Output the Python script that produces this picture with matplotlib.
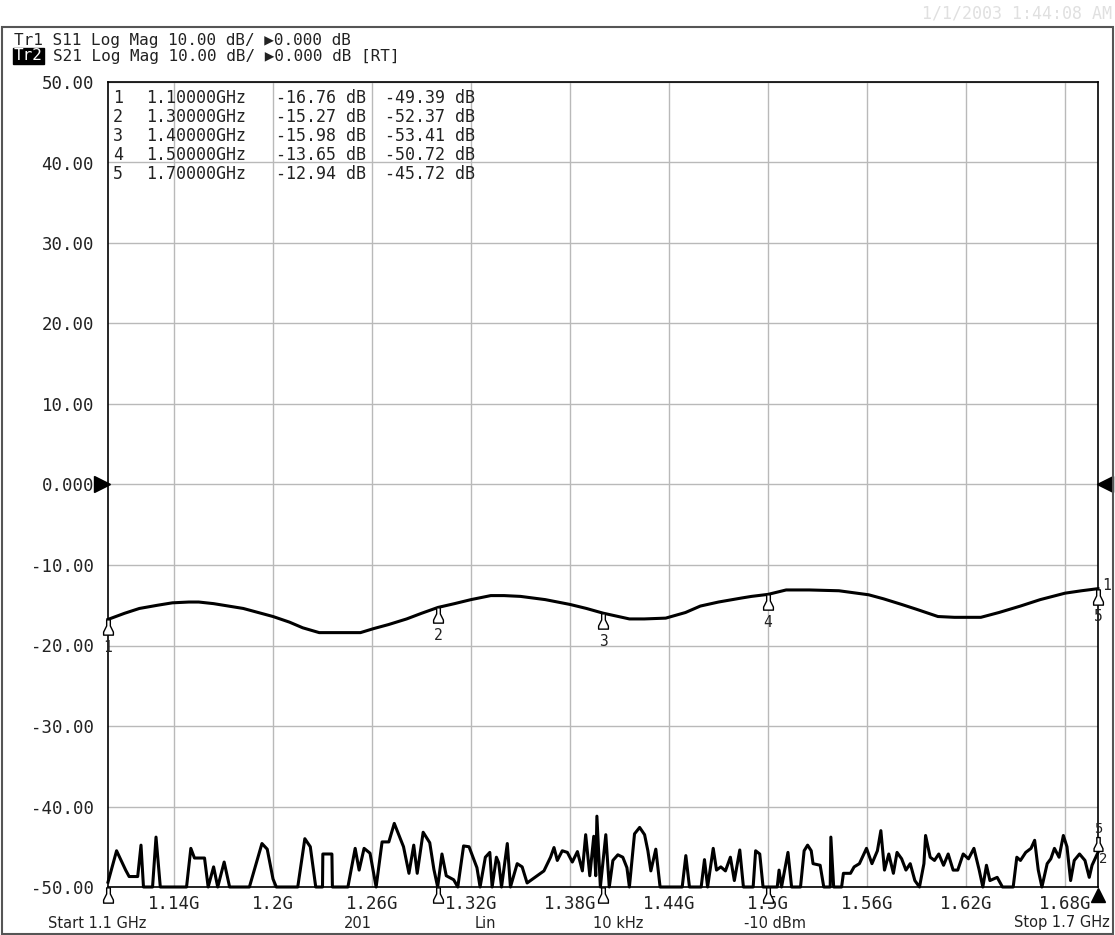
import numpy as np
import matplotlib.pyplot as plt
from matplotlib import transforms
from matplotlib.path import Path
from matplotlib.patches import Rectangle
from matplotlib.lines import Line2D

plt.rcParams['font.family'] = ['DejaVu Sans Mono', 'DejaVu Sans']

W, H = 1115, 935

# sweep
f_start, f_stop = 1.1, 1.7
n_points = 201

# S11 (Tr1)
s11_freq = [1.100, 1.110, 1.119, 1.130, 1.139, 1.149, 1.155, 1.164, 1.182, 1.200, 1.210,
            1.218, 1.228, 1.253, 1.261, 1.270, 1.281, 1.290, 1.300, 1.310, 1.320, 1.332,
            1.340, 1.350, 1.365, 1.380, 1.390, 1.400, 1.416, 1.425, 1.438, 1.450, 1.459,
            1.470, 1.484, 1.490, 1.500, 1.511, 1.525, 1.543, 1.561, 1.570, 1.581, 1.590,
            1.603, 1.613, 1.629, 1.640, 1.653, 1.665, 1.680, 1.690, 1.700]
s11_db = [-16.76, -16.0, -15.4, -15.0, -14.7, -14.6, -14.6, -14.8, -15.4, -16.4, -17.1,
          -17.8, -18.4, -18.4, -17.9, -17.4, -16.7, -16.0, -15.27, -14.8, -14.3, -13.8,
          -13.8, -13.9, -14.3, -14.9, -15.4, -15.98, -16.7, -16.7, -16.6, -15.9, -15.1,
          -14.6, -14.1, -13.9, -13.65, -13.1, -13.1, -13.2, -13.7, -14.2, -14.9, -15.5,
          -16.4, -16.5, -16.5, -15.9, -15.1, -14.3, -13.5, -13.2, -12.94]

# S21 (Tr2), vertices of the noisy trace as shown (floor clipped at -50 dB)
s21_freq = [1.1000, 1.1052, 1.1107, 1.1128, 1.1180, 1.1200, 1.1215, 1.1270, 1.1291, 1.1317,
            1.1476, 1.1502, 1.1524, 1.1585, 1.1607, 1.1640, 1.1665, 1.1704, 1.1737, 1.1857,
            1.1933, 1.1965, 1.2000, 1.2020, 1.2150, 1.2193, 1.2226, 1.2259, 1.2300, 1.2302,
            1.2357, 1.2360, 1.2454, 1.2498, 1.2522, 1.2552, 1.2588, 1.2625, 1.2661, 1.2702,
            1.2735, 1.2791, 1.2824, 1.2853, 1.2874, 1.2910, 1.2950, 1.2975, 1.2998, 1.3024,
            1.3050, 1.3095, 1.3120, 1.3155, 1.3188, 1.3236, 1.3255, 1.3287, 1.3314, 1.3328,
            1.3354, 1.3368, 1.3385, 1.3420, 1.3439, 1.3480, 1.3510, 1.3540, 1.3601, 1.3642,
            1.3682, 1.3703, 1.3723, 1.3753, 1.3784, 1.3814, 1.3845, 1.3875, 1.3895, 1.3920,
            1.3944, 1.3956, 1.3963, 1.3984, 1.4017, 1.4038, 1.4060, 1.4090, 1.4120, 1.4145,
            1.4160, 1.4191, 1.4222, 1.4252, 1.4272, 1.4290, 1.4320, 1.4346, 1.4480, 1.4502,
            1.4524, 1.4595, 1.4615, 1.4634, 1.4668, 1.4688, 1.4714, 1.4742, 1.4772, 1.4796,
            1.4829, 1.4851, 1.4910, 1.4925, 1.4950, 1.4970, 1.5056, 1.5067, 1.5082, 1.5121,
            1.5143, 1.5197, 1.5219, 1.5240, 1.5262, 1.5273, 1.5316, 1.5338, 1.5377, 1.5381,
            1.5398, 1.5446, 1.5457, 1.5500, 1.5522, 1.5554, 1.5597, 1.5630, 1.5663, 1.5684,
            1.5706, 1.5732, 1.5760, 1.5782, 1.5810, 1.5836, 1.5862, 1.5890, 1.5918, 1.5945,
            1.5955, 1.5983, 1.6009, 1.6035, 1.6064, 1.6092, 1.6122, 1.6150, 1.6183, 1.6215,
            1.6248, 1.6280, 1.6302, 1.6324, 1.6345, 1.6389, 1.6421, 1.6486, 1.6508, 1.6530,
            1.6562, 1.6594, 1.6616, 1.6638, 1.6660, 1.6692, 1.6714, 1.6736, 1.6764, 1.6790,
            1.6812, 1.6834, 1.6856, 1.6888, 1.6921, 1.6947, 1.6964, 1.7000]
s21_db = [-49.4, -45.5, -47.9, -48.7, -48.7, -44.8, -50, -50, -43.8, -50,
          -50, -45.2, -46.4, -46.4, -50, -47.5, -50, -46.9, -50, -50,
          -44.6, -45.3, -49.0, -50, -50, -44.0, -45.0, -50, -50, -45.9,
          -45.9, -50, -50, -45.2, -47.9, -45.2, -45.8, -50, -44.4, -44.4,
          -42.1, -45.0, -48.3, -44.8, -48.3, -43.2, -44.5, -47.8, -50, -45.9,
          -48.6, -49.1, -50, -44.9, -45.0, -47.6, -50, -46.3, -45.7, -50,
          -46.3, -47.0, -50, -44.6, -50, -47.1, -47.5, -49.5, -48.6, -48.0,
          -46.3, -45.1, -46.7, -45.5, -45.7, -46.9, -45.6, -48.0, -43.5, -48.6,
          -43.7, -48.6, -41.2, -50, -43.5, -50, -46.7, -46.0, -46.3, -47.6,
          -50, -43.4, -42.6, -43.5, -45.5, -48.0, -45.3, -50, -50, -46.1,
          -50, -50, -46.6, -50, -45.2, -47.9, -47.5, -48.0, -46.3, -49.2,
          -45.4, -50, -50, -45.5, -45.9, -50, -50, -47.9, -50, -45.7,
          -50, -50, -45.5, -44.8, -45.5, -47.1, -47.3, -50, -50, -43.8,
          -50, -50, -48.3, -48.3, -47.5, -47.1, -45.2, -47.1, -45.5, -43.0,
          -47.9, -45.9, -48.3, -45.7, -46.5, -47.9, -47.1, -49.2, -50, -47.1,
          -43.6, -46.3, -46.7, -45.9, -47.3, -45.9, -47.9, -47.9, -45.9, -46.5,
          -45.2, -47.9, -50, -47.3, -49.2, -48.8, -50, -50, -46.3, -46.7,
          -45.7, -45.2, -44.2, -47.9, -50, -47.1, -46.5, -45.2, -46.3, -43.6,
          -45.0, -49.2, -46.7, -45.9, -46.7, -48.8, -47.3, -45.7]

# markers
marker_freq = [1.1, 1.3, 1.4, 1.5, 1.7]
marker_s11 = [-16.76, -15.27, -15.98, -13.65, -12.94]
marker_s21 = [-49.39, -52.37, -53.41, -50.72, -45.72]

# axes scale
y_top, y_bot, y_div = 50, -50, 10
x_ticks = [1.14, 1.20, 1.26, 1.32, 1.38, 1.44, 1.50, 1.56, 1.62, 1.68]


def fx(x):
    return x / W


def fy(y):
    return 1 - y / H


fig = plt.figure(figsize=(W / 100, H / 100), dpi=100)
fig.patch.set_facecolor('white')
ax = fig.add_axes([fx(108), fy(887), 990 / W, 805 / H])

ax.set_xlim(f_start, f_stop)
ax.set_ylim(y_bot, y_top)
yt = np.arange(y_bot, y_top + 1, y_div)
ax.set_yticks(yt)
ax.set_yticklabels(['0.000' if v == 0 else '%.2f' % v for v in yt])
ax.set_xticks(x_ticks)
ax.set_xticklabels(['%gG' % round(v, 2) for v in x_ticks])
ax.tick_params(length=0, labelsize=12.5, colors='#222222')
ax.tick_params(axis='y', pad=10)
ax.tick_params(axis='x', pad=6)
ax.grid(True, color='#b9b9b9', lw=1.0)
ax.set_axisbelow(True)
for s in ax.spines.values():
    s.set_color('black')
    s.set_linewidth(1.2)

ax.plot(s11_freq, s11_db, color='black', lw=2.2, clip_on=False, zorder=3)
ax.plot(s21_freq, s21_db, color='black', lw=2.2, clip_on=False, zorder=3)

# marker glyph (little bell shape)
bell = Path([(-0.12, 0.5), (0.12, 0.5), (0.12, 0.1), (0.32, -0.3), (0.32, -0.5),
             (-0.32, -0.5), (-0.32, -0.3), (-0.12, 0.1), (-0.12, 0.5)],
            [Path.MOVETO] + [Path.LINETO] * 7 + [Path.CLOSEPOLY])
below = transforms.offset_copy(ax.transData, fig=fig, x=0, y=-8, units='dots')
above = transforms.offset_copy(ax.transData, fig=fig, x=0, y=9, units='dots')

for i, (f, v) in enumerate(zip(marker_freq, marker_s11)):
    ax.plot([f], [v], marker=bell, ms=11, mfc='white', mec='black', mew=1.0,
            transform=below, clip_on=False, zorder=5)
    ax.annotate(str(i + 1), (f, v), xytext=(0, -28), textcoords='offset pixels',
                ha='center', va='center', fontsize=10.5, color='#222222')
ax.annotate('1', (marker_freq[-1], marker_s11[-1]), xytext=(4, 3), textcoords='offset pixels',
            ha='left', va='center', fontsize=10.5, color='#222222', annotation_clip=False)

for i, (f, v) in enumerate(zip(marker_freq, marker_s21)):
    if i == len(marker_freq) - 1:
        # last marker sits on the trace at the right edge
        ax.plot([f], [v], marker=bell, ms=10, mfc='white', mec='black', mew=1.0,
                transform=above, clip_on=False, zorder=5)
        ax.annotate(str(i + 1), (f, v), xytext=(0, 24), textcoords='offset pixels',
                    ha='center', va='center', fontsize=10, color='#222222', annotation_clip=False)
        ax.annotate('2', (f, v), xytext=(5, -6), textcoords='offset pixels',
                    ha='center', va='center', fontsize=10, color='#222222', annotation_clip=False)
    else:
        # the others read at or below the floor, drawn on the bottom line
        ax.plot([f], [y_bot], marker=bell, ms=11, mfc='white', mec='black', mew=1.0,
                transform=below, clip_on=False, zorder=5)

# reference level arrows
left_t = transforms.offset_copy(ax.transData, fig=fig, x=-6, y=0, units='dots')
right_t = transforms.offset_copy(ax.transData, fig=fig, x=7, y=0, units='dots')
ax.plot([f_start], [0], marker='>', ms=11, color='black', transform=left_t, clip_on=False)
ax.plot([f_stop], [0], marker='<', ms=11, color='black', transform=right_t, clip_on=False)
ax.plot([f_stop], [y_bot], marker='^', ms=10, color='black', transform=below, clip_on=False, zorder=6)

# marker table
row_y = [98, 117, 136, 155, 174]
for i, (f, a, b) in enumerate(zip(marker_freq, marker_s11, marker_s21)):
    y = fy(row_y[i])
    kw = dict(fontsize=12, va='center', ha='left', color='#222222')
    fig.text(fx(113), y, str(i + 1), **kw)
    fig.text(fx(146), y, '%.5fGHz' % f, **kw)
    fig.text(fx(276), y, '%.2f dB' % a, **kw)
    fig.text(fx(385), y, '%.2f dB' % b, **kw)

# header
hk = dict(fontsize=11.5, va='center', ha='left', color='#222222')
fig.text(fx(14), fy(41), 'Tr1 S11 Log Mag 10.00 dB/ \u25b60.000 dB', **hk)
fig.add_artist(Line2D([fx(14), fx(42)], [fy(49), fy(49)], color='#222222', lw=0.9))
fig.text(fx(14), fy(56), 'Tr2', fontsize=11.5, va='center', ha='left', color='white',
         bbox=dict(facecolor='black', edgecolor='black', pad=0.6))
fig.text(fx(53), fy(56), 'S21 Log Mag 10.00 dB/ \u25b60.000 dB [RT]', **hk)

fig.text(fx(1112), fy(13), '1/1/2003 1:44:08 AM', fontsize=12, color='#e0e0e0',
         ha='right', va='center')

# bottom status line
bk = dict(fontsize=10.5, va='center', family=['DejaVu Sans'], color='#222222')
fig.text(fx(48), fy(923), 'Start %g GHz' % f_start, ha='left', **bk)
fig.text(fx(358), fy(923), str(n_points), ha='center', **bk)
fig.text(fx(485), fy(923), 'Lin', ha='center', **bk)
fig.text(fx(618), fy(923), '10 kHz', ha='center', **bk)
fig.text(fx(775), fy(923), '-10 dBm', ha='center', **bk)
fig.text(fx(1110), fy(923), 'Stop %g GHz' % f_stop, ha='right', **bk)

# outer frame
fig.patches.append(Rectangle((fx(2), fy(934)), fx(1111), fy(27) - fy(934), transform=fig.transFigure,
                             fill=False, edgecolor='#555555', lw=1.5))

fig.savefig('out.png', dpi=100)
